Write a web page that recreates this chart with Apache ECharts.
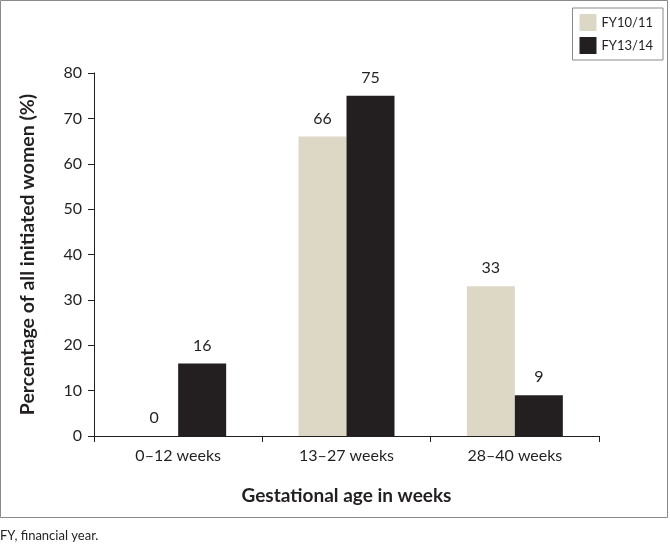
<!DOCTYPE html>
<html><head><meta charset="utf-8">
<script src="https://cdn.jsdelivr.net/npm/echarts@6/dist/echarts.min.js"></script>
<style>html,body{margin:0;padding:0;background:#fff}#c{width:670px;height:546px}</style>
</head><body><div id="c"></div>
<script>
const categories = ['0–12 weeks', '13–27 weeks', '28–40 weeks'];
const seriesNames = ['FY10/11', 'FY13/14'];
const fy1011 = [0, 66, 33];
const fy1314 = [16, 75, 9];
const yTicks = [0, 10, 20, 30, 40, 50, 60, 70, 80];

const FONT = 'Lato, "Open Sans", sans-serif';
const chart = echarts.init(document.getElementById('c'), null, {renderer: 'canvas'});
const lbl = {show: true, position: 'top', distance: 10, color: '#231F20', fontSize: 16, fontFamily: FONT};
chart.setOption({
  animation: false,
  graphic: [
    {type: 'rect', shape: {x: 0.5, y: 0.5, width: 667, height: 517}, style: {fill: 'none', stroke: '#8a8a8a', lineWidth: 1}},
    {type: 'text', left: 0, top: 529, style: {text: 'FY, financial year.', fontSize: 13, fontFamily: FONT, fill: '#231F20'}}
  ],
  legend: {
    right: 7, top: 8, orient: 'vertical', itemWidth: 17, itemHeight: 17, itemGap: 6, icon: 'rect',
    padding: [6, 10, 6, 7], borderColor: '#8a8a8a', borderWidth: 1,
    textStyle: {fontSize: 13, fontFamily: FONT, color: '#231F20'},
    data: seriesNames
  },
  grid: {left: 94, right: 71, top: 73, bottom: 110},
  xAxis: {
    type: 'category', data: categories,
    name: 'Gestational age in weeks', nameLocation: 'middle', nameGap: 50,
    nameTextStyle: {fontSize: 19, fontWeight: 'bold', fontFamily: FONT, color: '#231F20'},
    axisLine: {lineStyle: {color: '#231F20', width: 1}},
    axisTick: {show: true, length: 6, lineStyle: {color: '#231F20'}},
    axisLabel: {fontSize: 16, fontFamily: FONT, color: '#231F20', margin: 12}
  },
  yAxis: {
    type: 'value', min: 0, max: 80, interval: 10,
    name: 'Percentage of all initiated women (%)', nameLocation: 'middle', nameGap: 56, nameRotate: 90,
    nameTextStyle: {fontSize: 19.5, fontWeight: 'bold', fontFamily: FONT, color: '#231F20'},
    axisLine: {show: true, lineStyle: {color: '#231F20', width: 1}},
    axisTick: {show: true, length: 6, lineStyle: {color: '#231F20'}},
    splitLine: {show: false},
    axisLabel: {fontSize: 16, fontFamily: FONT, color: '#231F20', margin: 12,
      formatter: v => yTicks.includes(v) ? String(v) : ''}
  },
  series: [
    {name: seriesNames[0], type: 'bar', data: fy1011, barWidth: 48, barGap: '0%', itemStyle: {color: '#DDD8C6'}, label: lbl},
    {name: seriesNames[1], type: 'bar', data: fy1314, barWidth: 48, barGap: '0%', itemStyle: {color: '#231F20'}, label: lbl}
  ]
});
</script></body></html>
